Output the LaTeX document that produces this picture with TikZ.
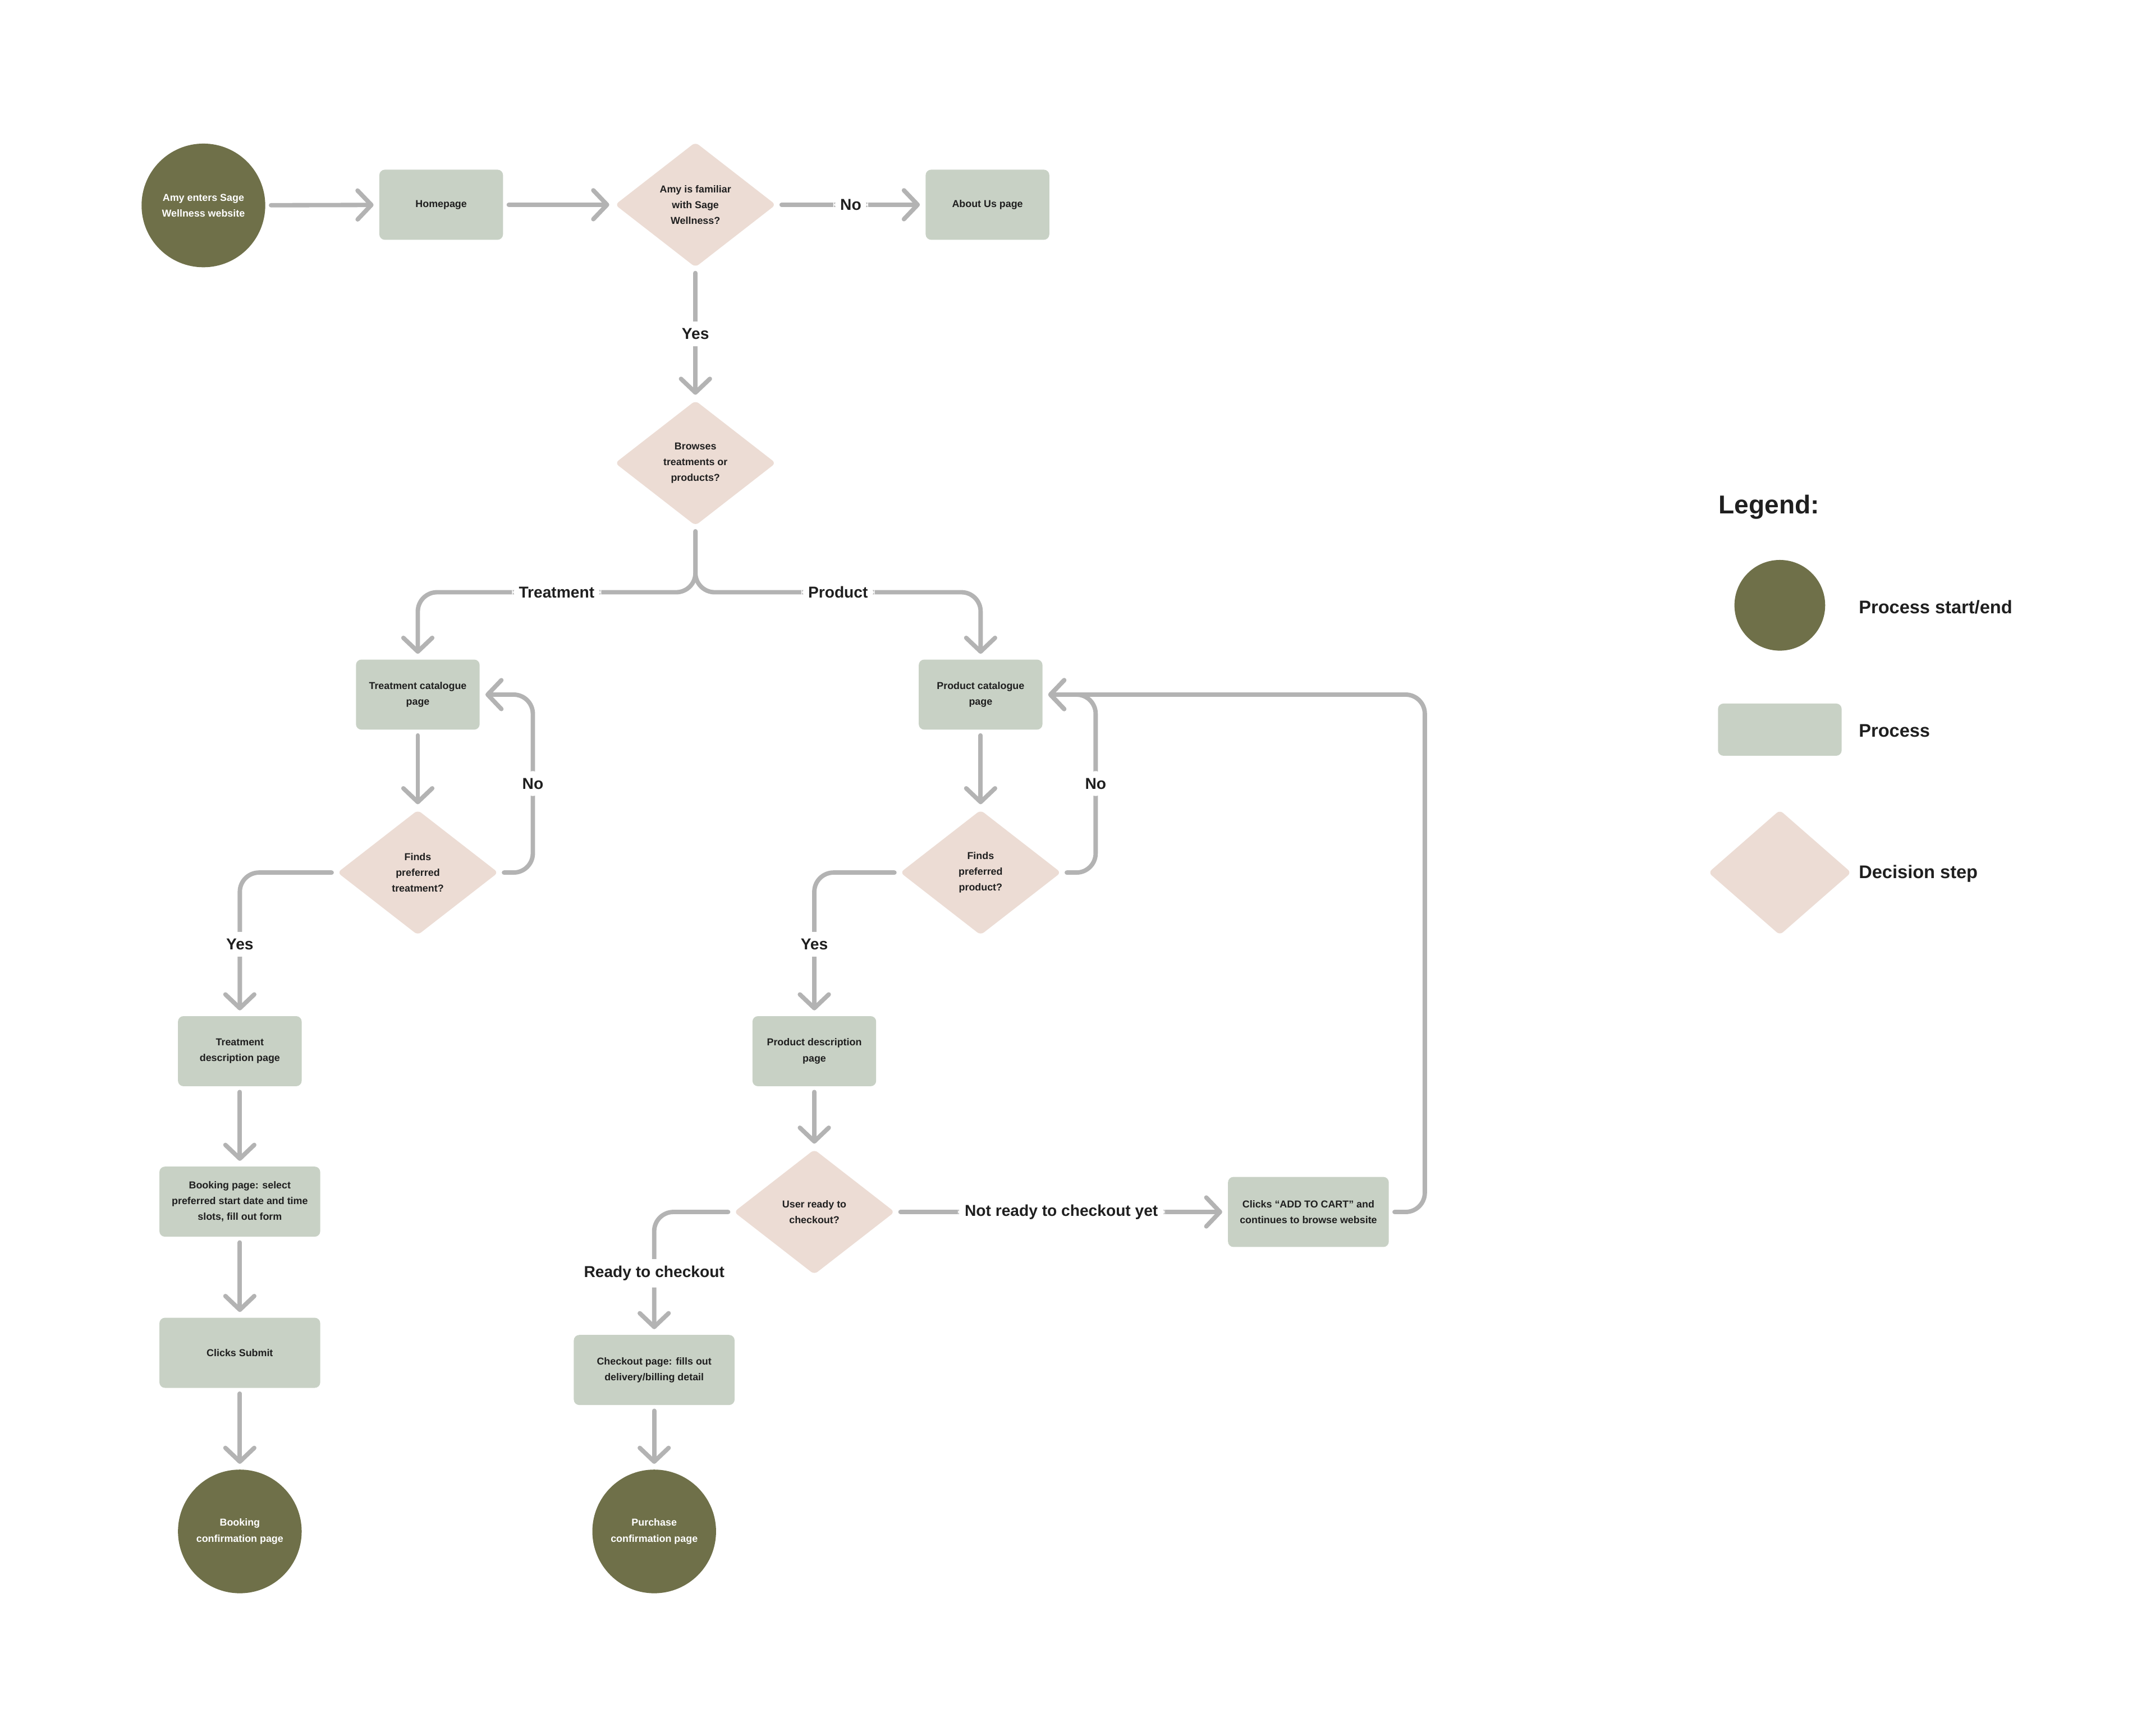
\documentclass[tikz,border=0pt]{standalone}
\usepackage{fontspec}
\setmainfont{Liberation Sans}
\usepackage{xcolor}
\usetikzlibrary{arrows.meta,shapes.geometric}

\definecolor{olive}{HTML}{6F7049}
\definecolor{sage}{HTML}{C8D1C5}
\definecolor{blush}{HTML}{ECDCD4}
\definecolor{linegray}{HTML}{B3B3B3}
\definecolor{ink}{HTML}{1F1F1F}

\newcommand{\flownodefont}{\fontsize{7.3}{11.5}\selectfont\bfseries}
\newcommand{\flowlblfont}{\fontsize{11.5}{13}\selectfont\bfseries}

\begin{document}
\begin{tikzpicture}[x=1pt, y=-1pt]
  \tikzstyle{startend}=[circle, fill=olive, minimum size=90pt, inner sep=0pt,
    text=white, font=\flownodefont, align=center];
  \tikzstyle{process}=[rectangle, rounded corners=4pt, fill=sage,
    minimum width=90pt, minimum height=51pt, inner sep=0pt, text=ink,
    font=\flownodefont, align=center];
  \tikzstyle{decision}=[diamond, rounded corners=3pt, fill=blush,
    minimum width=117pt, minimum height=91pt, inner sep=0pt, text=ink,
    font=\flownodefont, align=center];
  \tikzstyle{arr}=[linegray, line width=3.2pt, line cap=round, line join=round,
    -{Straight Barb[length=10pt, width=21pt, round]},
    shorten <=4pt, shorten >=4pt, rounded corners=14pt];
  \tikzstyle{lbl}=[fill=white, inner sep=5pt, text=ink, font=\flowlblfont];
  %
  % page
  \useasboundingbox[fill=white] (0, 0) rectangle (1568, 1263);
  %
  % top row
  \node[startend] (start) at (148, 149.5) {Amy enters Sage\\Wellness website};
  \node[process] (home) at (321, 149) {Homepage};
  \node[decision] (familiar) at (506, 149) {Amy is familiar\\with Sage\\Wellness?};
  \node[process] (about) at (718.5, 149) {About Us page};
  \node[decision] (browse) at (506, 337) {Browses\\treatments or\\products?};
  %
  \draw[arr] (start) -- (home);
  \draw[arr] (home) -- (familiar);
  \draw[arr] (familiar) -- node[lbl] {No} (about);
  \draw[arr] (familiar) -- node[lbl] {Yes} (browse);
  %
  % treatment branch
  \node[process] (tcat) at (304, 505.5) {Treatment catalogue\\page};
  \node[decision] (tfind) at (304, 635) {Finds\\preferred\\treatment?};
  \node[process] (tdesc) at (174.5, 765) {Treatment\\description page};
  \node[process, minimum width=117pt] (booking) at (174.5, 874.5)
    {Booking page: select\\preferred start date and time\\slots, fill out form};
  \node[process, minimum width=117pt] (submit) at (174.5, 984.5) {Clicks Submit};
  \node[startend] (bconf) at (174.5, 1114.5) {Booking\\confirmation page};
  %
  \coordinate (split) at (506, 431);
  \draw[arr] (browse.south) -- (split) -| node[lbl, pos=0.25] {Treatment} (tcat.north);
  \draw[arr] (tcat) -- (tfind);
  \draw[arr] (tfind.east) -- ++(25, 0) |- node[lbl, pos=0.25] {No} (tcat.east);
  \draw[arr] (tfind.west) -| node[lbl, pos=0.75] {Yes} (tdesc.north);
  \draw[arr] (tdesc) -- (booking);
  \draw[arr] (booking) -- (submit);
  \draw[arr] (submit) -- (bconf);
  %
  % product branch
  \node[process] (pcat) at (713.5, 505.5) {Product catalogue\\page};
  \node[decision] (pfind) at (713.5, 635) {Finds\\preferred\\product?};
  \node[process] (pdesc) at (592.5, 765) {Product description\\page};
  \node[decision] (ready) at (592.5, 882) {User ready to\\checkout?};
  \node[process, minimum width=117pt] (checkout) at (476, 997)
    {Checkout page: fills out\\delivery/billing detail};
  \node[startend] (pconf) at (476, 1114.5) {Purchase\\confirmation page};
  \node[process, minimum width=117pt] (cart) at (952, 882)
    {Clicks “ADD TO CART” and\\continues to browse website};
  %
  \draw[arr] (browse.south) -- (split) -| node[lbl, pos=0.25] {Product} (pcat.north);
  \draw[arr] (pcat) -- (pfind);
  \draw[arr] (pfind.east) -- ++(25, 0) |- node[lbl, pos=0.25] {No} (pcat.east);
  \draw[arr] (pfind.west) -| node[lbl, pos=0.75] {Yes} (pdesc.north);
  \draw[arr] (pdesc) -- (ready);
  \draw[arr] (ready.west) -| node[lbl, pos=0.75] {Ready to checkout} (checkout.north);
  \draw[arr] (checkout) -- (pconf);
  \draw[arr] (ready.east) -- node[lbl] {Not ready to checkout yet} (cart.west);
  \draw[arr] (cart.east) -- ++(26, 0) |- (pcat.east);
  %
  % legend
  \node[anchor=west, text=ink, font=\fontsize{18.8}{22}\selectfont\bfseries]
    (legend) at (1247, 369) {Legend:};
  \node[startend, minimum size=66pt] (lgstart) at (1295, 440.5) {};
  \node[process, minimum height=38pt] (lgproc) at (1295, 531) {};
  \node[decision, minimum width=104pt] (lgdec) at (1295, 635) {};
  \tikzstyle{lgtext}=[anchor=west, text=ink, font=\fontsize{13.3}{16}\selectfont\bfseries];
  \node[lgtext] (lgstarttxt) at (1349, 442) {Process start/end};
  \node[lgtext] (lgproctxt) at (1349, 532) {Process};
  \node[lgtext] (lgdectxt) at (1349, 636) {Decision step};
\end{tikzpicture}
\end{document}
